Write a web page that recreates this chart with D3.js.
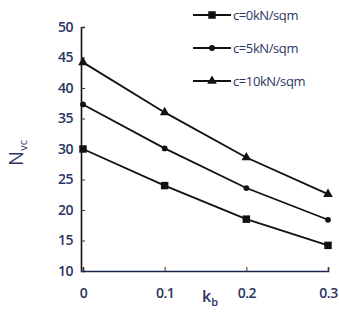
<!DOCTYPE html>
<html lang="en">
<head>
<meta charset="UTF-8">
<title>Nvc vs kb</title>
<style>
  body { margin: 0; background: #fff; }
  svg text { font-family: "Open Sans", "DejaVu Sans", sans-serif; fill: #2c3463; }
</style>
<script src="https://d3js.org/d3.v7.min.js"></script>
</head>
<body>
<svg id="chart"></svg>
<script>
// data
var kb = [0, 0.1, 0.2, 0.3];
var c0 = [30, 24, 18.5, 14.2];
var c5 = [37.3, 30.1, 23.6, 18.4];
var c10 = [44.2, 36, 28.6, 22.6];
var seriesNames = ["c=0kN/sqm", "c=5kN/sqm", "c=10kN/sqm"];
var yTicks = [10, 15, 20, 25, 30, 35, 40, 45, 50];
var xTicks = [0, 0.1, 0.2, 0.3];

var W = 339, H = 327;
var svg = d3.select("#chart").attr("width", W).attr("height", H);

var xs = d3.scaleLinear().domain([0, 0.3]).range([83, 328]);
var ys = d3.scaleLinear().domain([10, 50]).range([271, 27]);

// y axis, ticks pointing inward
var yAxis = svg.append("g").attr("transform", "translate(81,0)")
    .call(d3.axisRight(ys).tickValues(yTicks).tickSize(4).tickFormat(d3.format("d")));
yAxis.select(".domain").attr("stroke", "#111").attr("stroke-width", 1.6);
yAxis.selectAll(".tick line").attr("stroke", "#333");
yAxis.selectAll(".tick text").attr("x", -8).attr("text-anchor", "end")
    .attr("font-size", 14).attr("font-weight", 600).attr("letter-spacing", -0.5);

// x axis, ticks pointing up
var xAxis = svg.append("g").attr("transform", "translate(0,271)")
    .call(d3.axisTop(xs).tickValues(xTicks).tickSize(4).tickFormat(function(d) { return d === 0 ? "0" : d3.format(".1f")(d); }));
xAxis.select(".domain").attr("stroke", "#1a2350").attr("stroke-width", 1.6);
xAxis.selectAll(".tick line").attr("stroke", "#333");
xAxis.selectAll(".tick text").attr("y", 22).attr("dy", "0.35em")
    .attr("font-size", 14).attr("font-weight", 600).attr("letter-spacing", -0.5);

// axis titles
var yt = svg.append("text").attr("transform", "translate(23,153) rotate(-90)")
    .attr("text-anchor", "middle").attr("font-size", 20);
yt.append("tspan").text("N");
yt.append("tspan").attr("font-size", 11).attr("dy", 4).text("vc");

var xt = svg.append("text").attr("x", 210).attr("y", 302)
    .attr("text-anchor", "middle").attr("font-size", 16).attr("font-weight", 600);
xt.append("tspan").text("k");
xt.append("tspan").attr("font-size", 11).attr("dy", 4).text("b");

var series = [c0, c5, c10];
var shapes = [d3.symbolSquare, d3.symbolCircle, d3.symbolTriangle];
var sizes = [56, 26, 40];

var line = d3.line().x(function(d, i) { return xs(kb[i]); }).y(function(d) { return ys(d); });

series.forEach(function(vals, s) {
  svg.append("path").attr("d", line(vals)).attr("fill", "none")
     .attr("stroke", "#111").attr("stroke-width", 1.8);
  svg.selectAll(".m" + s).data(vals).enter().append("path")
     .attr("transform", function(d, i) { return "translate(" + xs(kb[i]) + "," + ys(d) + ")"; })
     .attr("d", d3.symbol().type(shapes[s]).size(sizes[s]))
     .attr("fill", "#111");
});

// legend
var legend = svg.append("g");
seriesNames.forEach(function(name, s) {
  var y = 15 + s * 33;
  legend.append("line").attr("x1", 193).attr("x2", 231).attr("y1", y).attr("y2", y)
     .attr("stroke", "#111").attr("stroke-width", 1.8);
  legend.append("path").attr("transform", "translate(212," + y + ")")
     .attr("d", d3.symbol().type(shapes[s]).size(sizes[s])).attr("fill", "#111");
  legend.append("text").attr("x", 233).attr("y", y).attr("dy", "0.35em")
     .attr("font-size", 13).attr("letter-spacing", -0.4).text(name);
});
</script>
</body>
</html>
